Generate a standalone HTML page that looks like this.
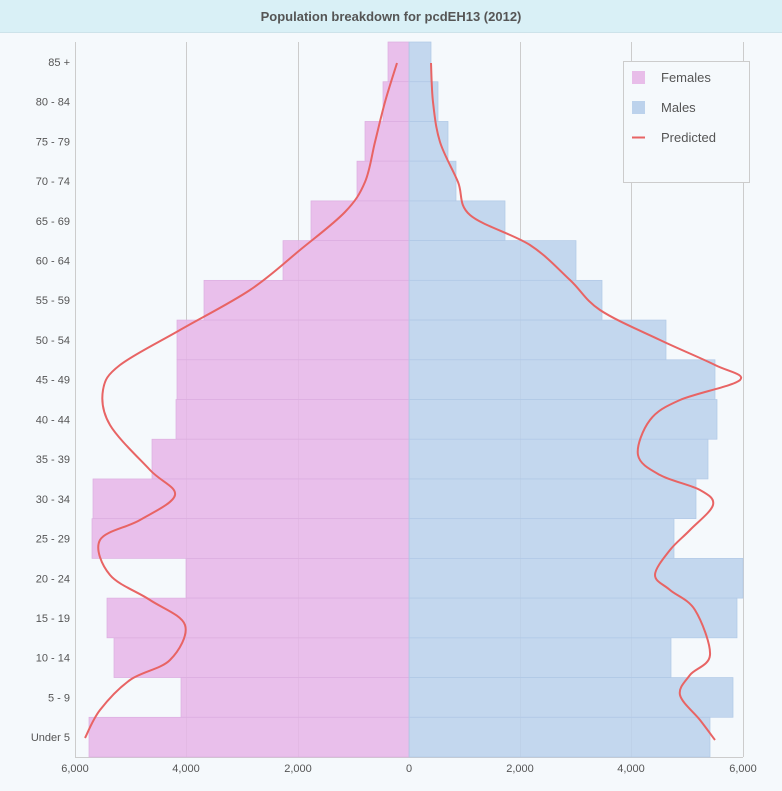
<!DOCTYPE html>
<html><head><meta charset="utf-8"><style>
body{margin:0;background:#f5f9fc;font-family:"Liberation Sans",sans-serif;}
</style></head><body>
<svg width="782" height="791" xmlns="http://www.w3.org/2000/svg" style="display:block">
<rect width="782" height="791" fill="#f5f9fc"/>
<rect x="0" y="0" width="782" height="32" fill="#d9f0f6"/>
<line x1="0" y1="32.5" x2="782" y2="32.5" stroke="#cde3ea"/>
<text x="391" y="21" text-anchor="middle" font-size="13" font-weight="bold" fill="#555">Population breakdown for pcdEH13 (2012)</text>
<g stroke="#ccc" stroke-width="1">
<line x1="75.5" y1="42" x2="75.5" y2="757"/><line x1="186.5" y1="42" x2="186.5" y2="757"/><line x1="298.5" y1="42" x2="298.5" y2="757"/><line x1="409.5" y1="42" x2="409.5" y2="757"/><line x1="520.5" y1="42" x2="520.5" y2="757"/><line x1="631.5" y1="42" x2="631.5" y2="757"/><line x1="743.5" y1="42" x2="743.5" y2="757"/>
<line x1="75" y1="757.5" x2="743" y2="757.5"/>
</g>
<g id="bars"></g>
<path id="pf" fill="none" stroke="#e86464" stroke-width="2"/>
<path id="pm" fill="none" stroke="#e86464" stroke-width="2"/>
<g font-size="11" fill="#555" text-anchor="middle">
<text x="75" y="772">6,000</text><text x="186" y="772">4,000</text><text x="298" y="772">2,000</text><text x="409" y="772">0</text><text x="520" y="772">2,000</text><text x="631" y="772">4,000</text><text x="743" y="772">6,000</text>
</g>
<g id="labels" font-size="11" fill="#555" text-anchor="end"></g>
<rect x="623.5" y="61.5" width="126" height="121" fill="#f5f9fc" stroke="#ccc"/>
<rect x="632" y="71" width="13" height="13" fill="#e8bde9"/>
<rect x="632" y="101" width="13" height="13" fill="#bcd2ec"/>
<line x1="632" y1="137.5" x2="645" y2="137.5" stroke="#e86464" stroke-width="2"/>
<g font-size="13" fill="#555"><text x="661" y="82">Females</text><text x="661" y="112">Males</text><text x="661" y="142">Predicted</text></g>
</svg>
<script>
const labels=["85 +","80 - 84","75 - 79","70 - 74","65 - 69","60 - 64","55 - 59","50 - 54","45 - 49","40 - 44","35 - 39","30 - 34","25 - 29","20 - 24","15 - 19","10 - 14","5 - 9","Under 5"];
const fl=[388,383,365,357,311,283,204,177,177,176,152,93,92,186,107,114,181,89];
const mr=[431,438,448,456,505,576,602,666,715,717,708,696,674,743,737,671,733,710];
const ns="http://www.w3.org/2000/svg";
const g=document.getElementById("bars"),lg=document.getElementById("labels");
const h=715/18;
labels.forEach((l,i)=>{
 const y=42+i*h;
 let r=document.createElementNS(ns,"rect");
 r.setAttribute("x",fl[i]);r.setAttribute("y",y);r.setAttribute("width",409-fl[i]);r.setAttribute("height",h);
 r.setAttribute("fill","#e6b5e8");r.setAttribute("fill-opacity","0.85");r.setAttribute("stroke","#dcaee0");r.setAttribute("stroke-width","0.7");g.appendChild(r);
 r=document.createElementNS(ns,"rect");
 r.setAttribute("x",409);r.setAttribute("y",y);r.setAttribute("width",mr[i]-409);r.setAttribute("height",h);
 r.setAttribute("fill","#bbd1eb");r.setAttribute("fill-opacity","0.87");r.setAttribute("stroke","#b0c8e6");r.setAttribute("stroke-width","0.7");g.appendChild(r);
 let t=document.createElementNS(ns,"text");t.setAttribute("x",70);t.setAttribute("y",y+h/2+4);t.textContent=l;lg.appendChild(t);
});
function smooth(p){let d="M"+p[0];for(let i=0;i<p.length-1;i++){const p0=p[i-1]||p[i],p1=p[i],p2=p[i+1],p3=p[i+2]||p2;
d+=` C${p1[0]+(p2[0]-p0[0])/6},${p1[1]+(p2[1]-p0[1])/6} ${p2[0]-(p3[0]-p1[0])/6},${p2[1]-(p3[1]-p1[1])/6} ${p2[0]},${p2[1]}`;}return d;}
const f=[[397,63],[385,102],[375,142],[365,182],[345,212],[300,250],[250,290],[180,330],[120,365],[103,390],[110,425],[150,470],[175,495],[140,520],[100,540],[110,575],[150,600],[185,625],[170,660],[130,680],[100,710],[85,738]];
const m=[[431,63],[433,102],[440,142],[458,182],[470,215],[530,245],[570,280],[600,310],[660,340],[715,365],[740,380],[680,400],[650,420],[638,455],[660,475],[700,490],[713,505],[690,530],[670,550],[655,575],[670,590],[695,610],[710,655],[690,675],[680,695],[700,720],[715,740]];
document.getElementById("pf").setAttribute("d",smooth(f));
document.getElementById("pm").setAttribute("d",smooth(m));
</script>
</body></html>
